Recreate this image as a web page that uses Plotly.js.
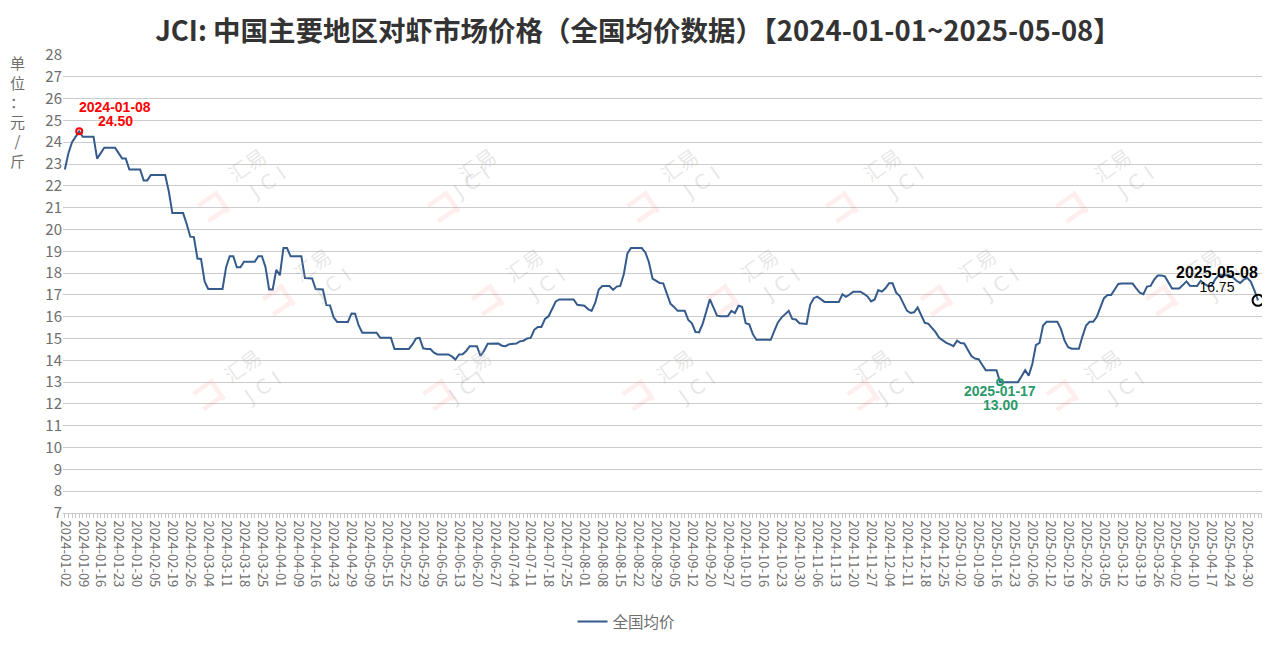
<!DOCTYPE html>
<html><head><meta charset="utf-8">
<script src="https://cdn.plot.ly/plotly-3.0.1.min.js"></script>
<style>html,body{margin:0;padding:0;background:#fff}#chart{width:1276px;height:651px}</style>
</head><body><div id="chart"></div>
<script>
const TITLE = 'JCI: 中国主要地区对虾市场价格（全国均价数据）【2024-01-01~2025-05-08】';
const SERIES_NAME = '全国均价';
const Y_TITLE = '单位：元/斤';

const TICK_LABELS = [
 '2024-01-02','2024-01-09','2024-01-16','2024-01-23','2024-01-30','2024-02-05','2024-02-19','2024-02-26',
 '2024-03-04','2024-03-11','2024-03-18','2024-03-25','2024-04-01','2024-04-09','2024-04-16','2024-04-23',
 '2024-04-29','2024-05-09','2024-05-15','2024-05-22','2024-05-29','2024-06-05','2024-06-13','2024-06-20',
 '2024-06-27','2024-07-04','2024-07-11','2024-07-18','2024-07-25','2024-08-01','2024-08-08','2024-08-15',
 '2024-08-22','2024-08-29','2024-09-05','2024-09-12','2024-09-20','2024-09-27','2024-10-10','2024-10-16',
 '2024-10-23','2024-10-30','2024-11-06','2024-11-13','2024-11-20','2024-11-27','2024-12-04','2024-12-11',
 '2024-12-18','2024-12-25','2025-01-02','2025-01-09','2025-01-16','2025-01-23','2025-02-06','2025-02-12',
 '2025-02-19','2025-02-26','2025-03-05','2025-03-12','2025-03-19','2025-03-26','2025-04-02','2025-04-10',
 '2025-04-17','2025-04-24','2025-04-30'
];

// 全国均价 (元/斤), one value per working day from 2024-01-02 to 2025-05-08
const PRICES = [
 22.75,23.5,24.0,24.25,24.5,24.25,24.25,24.25,24.25,23.25,
 23.5,23.75,23.75,23.75,23.75,23.5,23.25,23.25,22.75,22.75,
 22.75,22.75,22.25,22.25,22.5,22.5,22.5,22.5,22.5,21.75,
 20.75,20.75,20.75,20.75,20.25,19.67,19.65,18.67,18.65,17.62,
 17.27,17.27,17.27,17.27,17.27,18.27,18.77,18.77,18.27,18.27,
 18.52,18.52,18.52,18.52,18.77,18.77,18.27,17.25,17.25,18.15,
 17.9,19.15,19.15,18.77,18.77,18.77,18.77,17.77,17.75,17.75,
 17.27,17.25,17.25,16.53,16.52,15.97,15.76,15.76,15.76,15.76,
 16.15,16.14,15.6,15.27,15.27,15.27,15.27,15.27,15.03,15.03,
 15.03,15.03,14.52,14.52,14.52,14.52,14.52,14.73,15.0,15.03,
 14.55,14.52,14.52,14.35,14.27,14.27,14.27,14.27,14.18,14.04,
 14.27,14.28,14.43,14.65,14.65,14.65,14.2,14.44,14.76,14.77,
 14.77,14.77,14.67,14.65,14.74,14.77,14.77,14.87,14.9,15.0,
 15.03,15.4,15.53,15.53,15.9,16.02,16.4,16.7,16.79,16.79,
 16.79,16.79,16.79,16.55,16.51,16.5,16.35,16.27,16.63,17.25,
 17.41,17.41,17.41,17.23,17.38,17.41,17.96,18.9,19.15,19.15,
 19.15,19.15,18.95,18.5,17.75,17.65,17.55,17.53,17.09,16.6,
 16.45,16.27,16.27,16.27,15.85,15.7,15.3,15.29,15.67,16.3,
 16.8,16.43,16.05,16.02,16.02,16.02,16.27,16.17,16.5,16.45,
 15.7,15.65,15.2,14.94,14.94,14.94,14.94,14.94,15.35,15.74,
 15.96,16.13,16.27,15.9,15.87,15.7,15.67,15.67,16.55,16.85,
 16.92,16.8,16.68,16.68,16.68,16.68,16.68,17.03,16.91,17.02,
 17.15,17.15,17.15,17.05,16.93,16.7,16.79,17.22,17.15,17.3,
 17.53,17.53,17.1,16.95,16.65,16.28,16.17,16.2,16.42,16.03,
 15.72,15.67,15.5,15.29,15.03,14.9,14.8,14.73,14.65,14.9,
 14.79,14.77,14.5,14.2,14.08,14.05,13.8,13.55,13.55,13.55,
 13.55,13.0,13.0,13.0,13.0,13.0,13.0,13.27,13.55,13.3,
 13.83,14.7,14.8,15.6,15.77,15.77,15.77,15.77,15.43,14.9,
 14.6,14.53,14.53,14.53,15.1,15.6,15.77,15.77,16.0,16.4,
 16.85,17.0,17.0,17.25,17.5,17.52,17.52,17.52,17.52,17.3,
 17.1,17.03,17.38,17.41,17.7,17.89,17.89,17.85,17.55,17.29,
 17.29,17.29,17.45,17.62,17.42,17.41,17.41,17.65,17.5,17.41,
 17.41,17.7,17.9,17.9,17.9,17.9,17.8,17.65,17.55,17.7,
 17.78,17.6,17.2,16.75
];

// Chinese working-day calendar used by the source (holidays removed, weekend make-up days added)
const FIRST_DATE = '2024-01-02';
const LAST_DATE = '2025-05-08';
const HOLIDAYS = [
 '2024-02-09','2024-02-12','2024-02-13','2024-02-14','2024-02-15','2024-02-16',
 '2024-04-04','2024-04-05','2024-05-01','2024-05-02','2024-05-03','2024-06-10',
 '2024-09-16','2024-09-17','2024-10-01','2024-10-02','2024-10-03','2024-10-04','2024-10-07',
 '2025-01-01','2025-01-28','2025-01-29','2025-01-30','2025-01-31','2025-02-03','2025-02-04',
 '2025-04-04','2025-05-01','2025-05-02','2025-05-05'
];
const MAKEUP_WORKDAYS = [
 '2024-02-04','2024-02-18','2024-04-07','2024-04-28','2024-05-11','2024-09-14',
 '2024-09-29','2024-10-12','2025-01-26','2025-02-08','2025-04-27'
];

function buildDates(){
  const out = [];
  const d = new Date(FIRST_DATE + 'T00:00:00Z');
  const end = new Date(LAST_DATE + 'T00:00:00Z');
  while (d <= end){
    const s = d.toISOString().slice(0,10);
    const wd = d.getUTCDay();
    const work = (wd !== 0 && wd !== 6 && !HOLIDAYS.includes(s)) || MAKEUP_WORKDAYS.includes(s);
    if (work) out.push(s);
    d.setUTCDate(d.getUTCDate()+1);
  }
  return out;
}
const DATES = buildDates();
const xIdx = PRICES.map((_, i) => i);
const tickvals = TICK_LABELS.map((t, k) => { const j = DATES.indexOf(t); return j >= 0 ? j : k*5; });

const LINE_COLOR = '#355b8c';
const GRAY = '#6e6e6e';
const RED = '#ff0000';
const GREEN = '#2a9a6a';

let iMax = 0, iMin = 0;
PRICES.forEach((v, i) => { if (v > PRICES[iMax]) iMax = i; if (v < PRICES[iMin]) iMin = i; });
const iLast = PRICES.length - 1;
const dateOf = i => DATES[i] || '';

const traces = [
  {x: xIdx, y: PRICES, type: 'scatter', mode: 'lines', name: SERIES_NAME,
   line: {color: LINE_COLOR, width: 2}, customdata: PRICES.map((_, i) => dateOf(i)),
   hovertemplate: '%{customdata}<br>%{y:.2f}<extra></extra>'},
  {x: [iMax], y: [PRICES[iMax]], type: 'scatter', mode: 'markers', showlegend: false, hoverinfo: 'skip',
   marker: {symbol: 'circle-open', size: 6, color: RED, line: {width: 2}}},
  {x: [iMin], y: [PRICES[iMin]], type: 'scatter', mode: 'markers', showlegend: false, hoverinfo: 'skip',
   marker: {symbol: 'circle-open', size: 6, color: GREEN, line: {width: 2}}},
  {x: [iLast], y: [PRICES[iLast]], type: 'scatter', mode: 'markers', showlegend: false, hoverinfo: 'skip',
   marker: {symbol: 'circle-open', size: 11, color: '#000000', line: {width: 2}}}
];

const LBL_FONT = 'Liberation Sans, Arial, sans-serif';
function lbl(i, text, color, size, xshift, yshift){
  return {x: i, y: PRICES[i], xanchor: 'center', yanchor: 'middle', xshift: xshift, yshift: yshift,
          showarrow: false, text: text, font: {family: LBL_FONT, size: size, color: color}};
}

const annotations = [
  {xref: 'paper', yref: 'paper', x: -0.0378, y: 0.877, xanchor: 'center', yanchor: 'middle', showarrow: false,
   text: Y_TITLE.split('').join('<br>'), font: {size: 15, color: GRAY}},
  lbl(iMax, '<b>' + dateOf(iMax) + '</b>', RED, 14, 36, 24),
  lbl(iMax, '<b>' + PRICES[iMax].toFixed(2) + '</b>', RED, 14, 36, 10),
  lbl(iMin, '<b>' + dateOf(iMin) + '</b>', GREEN, 14, 0, -9),
  lbl(iMin, '<b>' + PRICES[iMin].toFixed(2) + '</b>', GREEN, 14, 0, -23),
  Object.assign(lbl(iLast, '<b><span style="font-size:16px">' + dateOf(iLast) + '</span></b><br>' +
      '<span style="font-size:14px">' + PRICES[iLast].toFixed(2) + '</span>', '#000000', 10.5, -41, 21),
      {align: 'center', borderpad: 0})
];

// faint "汇易 JCI" watermarks (paper coordinates)
const WM_X = [205, 435, 665, 895, 1125, 270, 510, 745, 990, 1215, 200, 430, 660, 885, 1115];
const WM_Y = [160, 160, 160, 160, 160, 287, 287, 287, 287, 287, 415, 415, 415, 415, 415];
WM_X.forEach((px, k) => {
  const x = (px - 63.3) / 1198.7, y = (517 - WM_Y[k]) / 462;
  annotations.push({xref: 'paper', yref: 'paper', x: x + 0.012, y: y + 0.045, showarrow: false, textangle: -35,
    text: '汇易', font: {size: 20, color: 'rgba(170,170,170,0.28)'}});
  annotations.push({xref: 'paper', yref: 'paper', x: x + 0.03, y: y + 0.0, showarrow: false, textangle: -35,
    text: 'J C I', font: {family: 'DejaVu Sans', size: 20, color: 'rgba(170,170,170,0.28)'}});
  annotations.push({xref: 'paper', yref: 'paper', x: x - 0.02, y: y - 0.03, showarrow: false, textangle: -35,
    text: '<b>コ</b>', font: {size: 34, color: 'rgba(250,120,120,0.14)'}});
});

const layout = {
  width: 1276, height: 651,
  paper_bgcolor: '#ffffff', plot_bgcolor: '#ffffff',
  font: {family: 'Noto Sans CJK SC, sans-serif', color: GRAY},
  margin: {l: 63, r: 14, t: 55, b: 134, pad: 0},
  title: {text: '<b>' + TITLE + '</b>', x: 0.5, xanchor: 'center', xref: 'container',
          y: 1 - 31/651, yref: 'container', yanchor: 'middle',
          font: {size: 27.5, color: '#333333', family: 'Noto Sans CJK SC, sans-serif'}},
  xaxis: {type: 'linear', range: [-0.52, 334.1], tickvals: tickvals, ticktext: TICK_LABELS,
          tickangle: 90, tickfont: {size: 13, color: GRAY}, ticks: 'outside', ticklen: 4, tickcolor: '#c8c8c8',
          minor: {dtick: 1, tick0: 0, ticks: 'outside', ticklen: 4, tickcolor: '#c8c8c8', showgrid: false},
          showgrid: false, zeroline: false, showline: true, linecolor: '#c8c8c8', linewidth: 1,
          automargin: false, fixedrange: true},
  yaxis: {range: [7, 28], dtick: 1, tick0: 7, showgrid: true, gridcolor: '#cccccc', gridwidth: 1,
          zeroline: false, showline: false, ticks: '', tickfont: {size: 15, color: GRAY},
          automargin: false, fixedrange: true},
  showlegend: true,
  legend: {orientation: 'h', x: 0.47, xanchor: 'center', y: -0.238, yanchor: 'middle',
           font: {size: 15.5, color: GRAY}, bgcolor: 'rgba(0,0,0,0)'},
  annotations: annotations,
  hovermode: 'closest'
};

Plotly.newPlot('chart', traces, layout, {displayModeBar: false});
</script></body></html>
